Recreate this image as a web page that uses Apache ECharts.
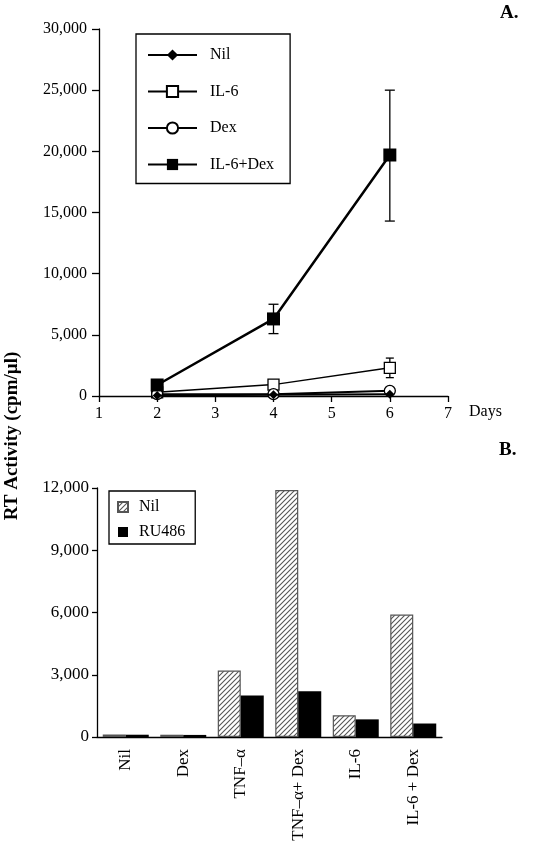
<!DOCTYPE html>
<html><head><meta charset="utf-8">
<script src="https://cdn.jsdelivr.net/npm/echarts@6/dist/echarts.min.js"></script>
<style>html,body{margin:0;padding:0;background:#fff}#c{width:549px;height:845px}</style>
</head><body><div id="c"></div>
<script>
// Panel A data
const days = [2, 4, 6];
const nilA = [50, 100, 150];
const il6A = [300, 930, 2300];
const dexA = [150, 150, 420];
const il6DexA = [900, 6300, 19700];
const il6Err = [[6, 1500, 3100]];
const il6DexErr = [[4, 5100, 7500], [6, 14300, 25000]];
const yTicksA = [0, 5000, 10000, 15000, 20000, 25000, 30000];

// Panel B data
const categoriesB = ['Nil', 'Dex', 'TNF–α', 'TNF–α+ Dex', 'IL-6', 'IL-6 + Dex'];
const nilB = [120, 110, 3200, 11900, 1050, 5900];
const ru486B = [110, 100, 2000, 2200, 850, 650];

const serif = 'Liberation Serif';

// hatch pattern
const S = 5;
const pc = document.createElement('canvas');
pc.width = S; pc.height = S;
const ctx = pc.getContext('2d');
ctx.fillStyle = '#fff'; ctx.fillRect(0, 0, S, S);
ctx.strokeStyle = '#555'; ctx.lineWidth = 1.1;
ctx.beginPath();
ctx.moveTo(0, S); ctx.lineTo(S, 0);
ctx.moveTo(-S, S); ctx.lineTo(S, -S);
ctx.moveTo(0, 2 * S); ctx.lineTo(2 * S, 0);
ctx.stroke();
const hatch = { image: pc, repeat: 'repeat' };

function zip(xs, ys) { return xs.map((x, i) => [x, ys[i]]); }

function errRender(capW) {
  return function (params, api) {
    const x = api.value(0);
    const lo = api.coord([x, api.value(1)]);
    const hi = api.coord([x, api.value(2)]);
    const st = { stroke: '#000', lineWidth: 1.3 };
    return {
      type: 'group', children: [
        { type: 'line', shape: { x1: lo[0], y1: lo[1], x2: hi[0], y2: hi[1] }, style: st },
        { type: 'line', shape: { x1: lo[0] - capW, y1: lo[1], x2: lo[0] + capW, y2: lo[1] }, style: st },
        { type: 'line', shape: { x1: hi[0] - capW, y1: hi[1], x2: hi[0] + capW, y2: hi[1] }, style: st }
      ]
    };
  };
}

const chart = echarts.init(document.getElementById('c'));
const axisLine = { show: true, lineStyle: { color: '#000', width: 1.3 } };
chart.setOption({
  animation: false,
  backgroundColor: '#fff',
  textStyle: { fontFamily: serif, color: '#000' },
  grid: [
    { left: 99, right: 101, top: 29, bottom: 449, containLabel: false },
    { left: 97, right: 107, top: 488, bottom: 108, containLabel: false }
  ],
  xAxis: [
    {
      gridIndex: 0, type: 'value', min: 1, max: 7, interval: 1,
      axisLine: axisLine, axisTick: { show: true, length: 6, lineStyle: { color: '#000', width: 1.3 } },
      axisLabel: { color: '#000', fontFamily: serif, fontSize: 16, margin: 10 },
      splitLine: { show: false }
    },
    {
      gridIndex: 1, type: 'category', data: categoriesB,
      axisLine: axisLine, axisTick: { show: false },
      axisLabel: { color: '#000', fontFamily: serif, fontSize: 17, rotate: 90, margin: 12, interval: 0 },
      splitLine: { show: false }
    }
  ],
  yAxis: [
    {
      gridIndex: 0, type: 'value', min: 0, max: 30000, interval: 5000,
      axisLine: axisLine, axisTick: { show: true, length: 7, lineStyle: { color: '#000', width: 1.3 } },
      axisLabel: { color: '#000', fontFamily: serif, fontSize: 16, margin: 12,
        formatter: v => v.toLocaleString('en-US') },
      splitLine: { show: false }
    },
    {
      gridIndex: 1, type: 'value', min: 0, max: 12000, interval: 3000,
      axisLine: axisLine, axisTick: { show: true, length: 5, lineStyle: { color: '#000', width: 1.3 } },
      axisLabel: { color: '#000', fontFamily: serif, fontSize: 17, margin: 8,
        formatter: v => v.toLocaleString('en-US') },
      splitLine: { show: false }
    }
  ],
  legend: [
    {
      left: 136, top: 34, orient: 'vertical',
      data: ['Nil', 'IL-6', 'Dex', 'IL-6+Dex'],
      itemWidth: 49, itemHeight: 14, itemGap: 20.5,
      padding: [13, 16, 11, 11],
      borderColor: '#000', borderWidth: 1.3, backgroundColor: '#fff',
      textStyle: { fontFamily: serif, fontSize: 16, color: '#000', padding: [0, 0, 0, 8] }
    },
    {
      left: 109, top: 491, orient: 'vertical',
      data: ['Nil ', 'RU486'],
      itemWidth: 10, itemHeight: 10, itemGap: 9, icon: 'rect',
      padding: [8, 10, 4, 8],
      borderColor: '#000', borderWidth: 1.3, backgroundColor: '#fff',
      textStyle: { fontFamily: serif, fontSize: 16, color: '#000', padding: [0, 0, 0, 6] }
    }
  ],
  graphic: [
    { type: 'text', left: 500, top: 4, style: { text: 'A.', font: 'bold 19px "Liberation Serif"', fill: '#000' } },
    { type: 'text', left: 499, top: 441, style: { text: 'B.', font: 'bold 19px "Liberation Serif"', fill: '#000' } },
    { type: 'text', left: 469, top: 404, style: { text: 'Days', font: '16px "Liberation Serif"', fill: '#000' } },
    { type: 'text', x: 3, y: 436, rotation: Math.PI / 2,
      style: { text: 'RT Activity (cpm/µl)', font: 'bold 19px "Liberation Serif"', fill: '#000',
        align: 'center', verticalAlign: 'top' } }
  ],
  series: [
    { name: 'Nil', type: 'line', xAxisIndex: 0, yAxisIndex: 0, data: zip(days, nilA),
      symbol: 'diamond', symbolSize: 9, lineStyle: { color: '#000', width: 2 },
      itemStyle: { color: '#000' }, z: 5 },
    { name: 'IL-6', type: 'line', xAxisIndex: 0, yAxisIndex: 0, data: zip(days, il6A),
      symbol: 'rect', symbolSize: 11, lineStyle: { color: '#000', width: 1.5 },
      itemStyle: { color: '#fff', borderColor: '#000', borderWidth: 1.3 }, z: 4 },
    { name: 'Dex', type: 'line', xAxisIndex: 0, yAxisIndex: 0, data: zip(days, dexA),
      symbol: 'circle', symbolSize: 11, lineStyle: { color: '#000', width: 2 },
      itemStyle: { color: '#fff', borderColor: '#000', borderWidth: 1.3 }, z: 4 },
    { name: 'IL-6+Dex', type: 'line', xAxisIndex: 0, yAxisIndex: 0, data: zip(days, il6DexA),
      symbol: 'rect', symbolSize: 13, lineStyle: { color: '#000', width: 2.5 },
      itemStyle: { color: '#000' }, z: 6 },
    { type: 'custom', xAxisIndex: 0, yAxisIndex: 0, data: il6Err, renderItem: errRender(4), z: 2 },
    { type: 'custom', xAxisIndex: 0, yAxisIndex: 0, data: il6DexErr, renderItem: errRender(5), z: 2 },
    { name: 'Nil ', type: 'bar', xAxisIndex: 1, yAxisIndex: 1, data: nilB,
      barWidth: 23, barGap: '0%',
      itemStyle: { color: hatch, borderColor: '#555', borderWidth: 1.2 } },
    { name: 'RU486', type: 'bar', xAxisIndex: 1, yAxisIndex: 1, data: ru486B,
      barWidth: 23, barGap: '0%',
      itemStyle: { color: '#000' } }
  ]
});
</script></body></html>
